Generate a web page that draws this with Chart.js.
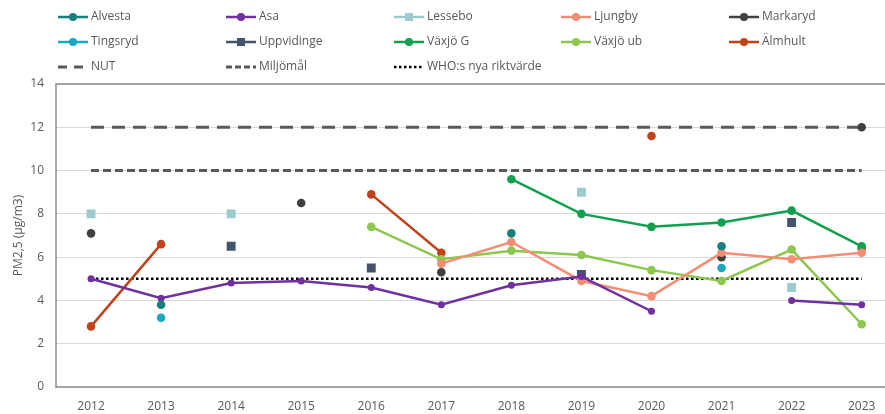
<!DOCTYPE html>
<html><head><meta charset="utf-8">
<script src="https://cdn.jsdelivr.net/npm/chart.js@4.4.1/dist/chart.umd.min.js"></script>
<style>html,body{margin:0;padding:0;overflow:hidden;background:#fff}#wrap{width:903px;height:414px}</style>
</head><body><div id="wrap"><canvas id="c" width="903" height="414"></canvas></div>
<script>
const years = ['2012','2013','2014','2015','2016','2017','2018','2019','2020','2021','2022','2023'];
const alvesta    = [null,3.8,null,null,null,null,7.1,null,null,6.5,null,null];
const asa        = [5.0,4.1,4.8,4.9,4.6,3.8,4.7,5.1,3.5,null,4.0,3.8];
const lessebo    = [8.0,null,8.0,null,null,null,null,9.0,null,null,4.6,null];
const ljungby    = [null,null,null,null,null,5.7,6.7,4.9,4.2,6.2,5.9,6.2];
const markaryd   = [7.1,null,null,8.5,null,5.3,null,null,null,6.0,null,12.0];
const tingsryd   = [null,3.2,null,null,null,null,null,null,null,5.5,null,null];
const uppvidinge = [null,null,6.5,null,5.5,null,null,5.2,null,null,7.6,null];
const vaxjoG     = [null,null,null,null,null,null,9.6,8.0,7.4,7.6,8.15,6.5];
const vaxjoUb    = [null,null,null,null,7.4,5.9,6.3,6.1,5.4,4.9,6.35,2.9];
const almhult    = [2.8,6.6,null,null,8.9,6.2,null,null,11.6,null,null,6.4];
const nut        = [12,12,12,12,12,12,12,12,12,12,12,12];
const miljomal   = [10,10,10,10,10,10,10,10,10,10,10,10];
const who        = [5,5,5,5,5,5,5,5,5,5,5,5];
const yTicks = [0,2,4,6,8,10,12,14];

function s(label, data, color, style) {
  return {label, data, borderColor: color, backgroundColor: color, borderWidth: 2.5,
    pointStyle: style || 'circle', pointRadius: style === 'rect' ? 6.3 : 4.3, pointHoverRadius: 5,
    pointBorderWidth: 0, spanGaps: false, tension: 0};
}
function ref(label, data, color, dash, width) {
  return {label, data, borderColor: color, backgroundColor: color, borderWidth: width,
    borderDash: dash, pointRadius: 0, spanGaps: true, tension: 0, isRef: true};
}
const datasets = [
  s('Alvesta', alvesta, '#17807e'),
  s('Asa', asa, '#7030a0'),
  s('Lessebo', lessebo, '#9ccacd', 'rect'),
  s('Ljungby', ljungby, '#f28e74'),
  s('Markaryd', markaryd, '#404040'),
  s('Tingsryd', tingsryd, '#19a8bf'),
  s('Uppvidinge', uppvidinge, '#44546a', 'rect'),
  s('Växjö G', vaxjoG, '#12a04f'),
  s('Växjö ub', vaxjoUb, '#8cc84e'),
  s('Älmhult', almhult, '#c0431c'),
  ref('NUT', nut, '#595959', [13, 8], 3),
  ref('Miljömål', miljomal, '#595959', [8, 4], 3),
  ref('WHO:s nya riktvärde', who, '#000000', [2.5, 2.5], 2.5)
];
datasets[1].pointRadius = 3.5;

const legendPlugin = {
  id: 'gridLegend',
  afterDraw(chart) {
    const ctx = chart.ctx;
    const colX = [58, 226, 394, 561, 729];
    const rowY = [17, 42, 67];
    ctx.save();
    ctx.font = '12px "Open Sans", sans-serif';
    ctx.textBaseline = 'middle';
    chart.data.datasets.forEach((ds, i) => {
      const col = i % 5, row = Math.floor(i / 5);
      const x = colX[col], y = rowY[row];
      ctx.strokeStyle = ds.borderColor;
      ctx.lineWidth = ds.isRef ? (ds.borderDash[0] < 3 ? 2.5 : 3) : 2.5;
      if (ds.isRef) {
        if (ds.borderDash[0] > 10) ctx.setLineDash([9, 7]);
        else if (ds.borderDash[0] > 5) ctx.setLineDash([6, 3]);
        else ctx.setLineDash([2.5, 2.5]);
      } else ctx.setLineDash([]);
      ctx.beginPath(); ctx.moveTo(x, y); ctx.lineTo(x + 30, y); ctx.stroke();
      ctx.setLineDash([]);
      if (!ds.isRef) {
        ctx.fillStyle = ds.borderColor;
        if (ds.pointStyle === 'rect') ctx.fillRect(x + 15 - 4, y - 4, 8, 8);
        else { ctx.beginPath(); ctx.arc(x + 15, y, 4, 0, Math.PI * 2); ctx.fill(); }
      }
      ctx.fillStyle = '#595959';
      ctx.fillText(ds.label, x + 33, y);
    });
    const a = chart.chartArea;
    ctx.strokeStyle = '#8c8c8c'; ctx.lineWidth = 1.5;
    ctx.beginPath();
    ctx.moveTo(a.right + 2, a.top); ctx.lineTo(a.left, a.top); ctx.lineTo(a.left, a.bottom); ctx.lineTo(a.right + 2, a.bottom);
    ctx.stroke();
    ctx.restore();
  }
};

new Chart(document.getElementById('c'), {
  type: 'line',
  data: {labels: years, datasets},
  options: {
    responsive: false, animation: false,
    layout: {padding: {top: 84, right: 0, left: 0, bottom: 0}},
    plugins: {legend: {display: false}, tooltip: {enabled: false}},
    scales: {
      x: {
        offset: true,
        grid: {display: false},
        border: {display: false},
        ticks: {color: '#595959', font: {family: 'Open Sans', size: 12}, padding: 4, maxRotation: 0},
        afterFit: sc => { sc.height = 27; }
      },
      y: {
        min: 0, max: 14,
        afterBuildTicks: sc => { sc.ticks = yTicks.map(v => ({value: v})); },
        grid: {color: '#d9d9d9', lineWidth: 1, drawTicks: false},
        border: {display: false},
        ticks: {color: '#595959', font: {family: 'Open Sans', size: 12}, padding: 12},
        title: {display: true, text: 'PM2,5 (µg/m3)', color: '#595959', font: {family: 'Open Sans', size: 12}, padding: {top: 11, bottom: 0}},
        afterFit: sc => { sc.width = 56; }
      }
    }
  },
  plugins: [legendPlugin]
});
</script>
</body></html>
